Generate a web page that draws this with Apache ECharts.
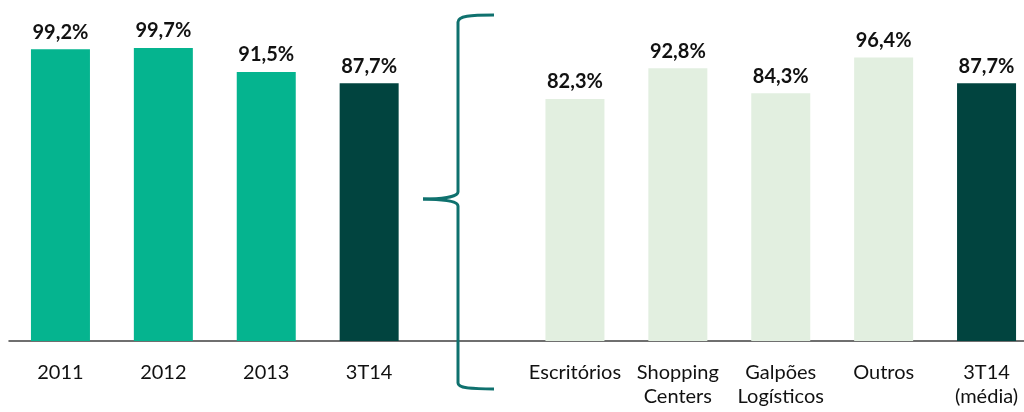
<!DOCTYPE html>
<html>
<head>
<meta charset="utf-8">
<script src="https://cdn.jsdelivr.net/npm/echarts@6/dist/echarts.min.js"></script>
<style>
html,body{margin:0;padding:0;background:#fff;overflow:hidden;width:1024px;height:412px;}
#c{width:1038px;height:412px;}
</style>
</head>
<body>
<div id="c"></div>
<script>
const categories = ['2011', '2012', '2013', '3T14', '', 'Escritórios', 'Shopping\nCenters', 'Galpões\nLogísticos', 'Outros', '3T14\n(média)'];
const values = [99.2, 99.7, 91.5, 87.7, null, 82.3, 92.8, 84.3, 96.4, 87.7];

const GREEN = '#05B48F', DARK = '#01443F', LIGHT = '#E2EFE0', BRACE = '#0F716E';

const braceStyle = {stroke: BRACE, lineWidth: 3, fill: null};
function curve(x1, y1, c1x, c1y, c2x, c2y, x2, y2) {
  return {type: 'bezierCurve', z: 100,
    shape: {x1: x1, y1: y1, cpx1: c1x, cpy1: c1y, cpx2: c2x, cpy2: c2y, x2: x2, y2: y2},
    style: braceStyle};
}
function seg(x1, y1, x2, y2) {
  return {type: 'line', z: 100, shape: {x1: x1, y1: y1, x2: x2, y2: y2}, style: braceStyle};
}

const chart = echarts.init(document.getElementById('c'), null, {renderer: 'canvas'});
chart.setOption({
  animation: false,
  backgroundColor: '#fff',
  grid: {left: 9, right: 0, top: 47, bottom: 71, containLabel: false},
  xAxis: {
    type: 'category',
    data: categories,
    axisLine: {lineStyle: {color: '#404040', width: 1.5}},
    axisTick: {show: false},
    axisLabel: {
      interval: 0, margin: 20, color: '#111', fontFamily: 'Lato', fontSize: 20, lineHeight: 24
    }
  },
  yAxis: {type: 'value', min: 0, max: 100, show: false, splitLine: {show: false}},
  series: [{
    type: 'bar',
    data: values,
    barWidth: 59,
    itemStyle: {
      color: function (p) {
        if (p.dataIndex < 3) return GREEN;
        if (p.dataIndex === 3 || p.dataIndex === 9) return DARK;
        return LIGHT;
      }
    },
    label: {
      show: true, position: 'top', distance: 7,
      fontFamily: 'Lato', fontWeight: 'bold', fontSize: 20, color: '#111',
      formatter: function (p) { return p.value == null ? '' : p.value.toFixed(1).replace('.', ',') + '%'; }
    }
  }],
  graphic: [
    curve(494, 15, 470, 15, 458, 16, 458, 22),
    seg(458, 22, 458, 192),
    curve(458, 192, 458, 197, 440, 199, 423, 199),
    curve(423, 199, 440, 199, 458, 201, 458, 206),
    seg(458, 206, 458, 383),
    curve(458, 383, 458, 388, 470, 389, 494, 389)
  ]
});
</script>
</body>
</html>
